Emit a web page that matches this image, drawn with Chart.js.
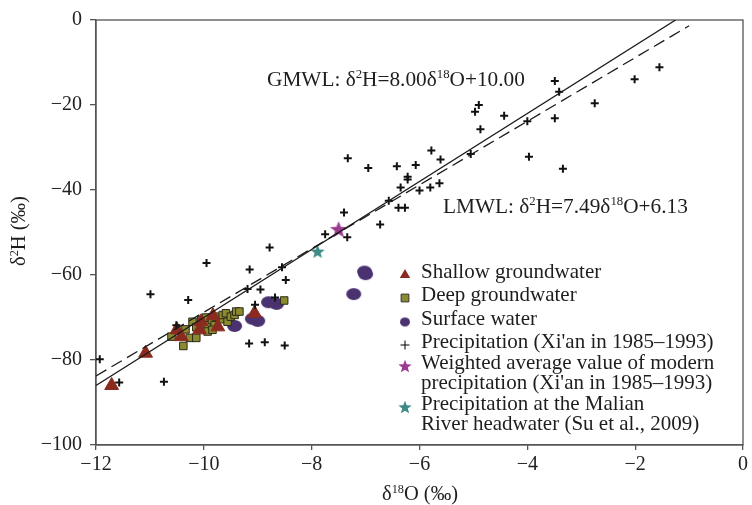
<!DOCTYPE html>
<html>
<head>
<meta charset="utf-8">
<script src="https://cdn.jsdelivr.net/npm/chart.js@4.4.0/dist/chart.umd.min.js"></script>
<style>
	body { margin: 0; background: #fff; }
	canvas { display: block; }
</style>
</head>
<body>
<canvas id="myChart" width="752" height="505"></canvas>
<script>
// values
let shallowX = [-11.71, -11.08, -10.50, -10.42, -10.05, -10.08, -9.83, -9.74, -9.06];
let shallowY = [-86.0, -78.4, -72.9, -74.5, -71.0, -72.9, -69.6, -72.2, -69.0];

let deepX = [-10.60, -10.38, -10.34, -10.26, -10.14, -10.21, -10.14, -10.05, -10.03, -9.96, -9.93, -9.93, -9.85,
	-9.80, -9.77, -9.65, -9.65, -9.59, -9.56, -9.50, -9.43, -9.40, -9.34, -9.84, -8.51];
let deepY = [-74.5, -76.7, -72.8, -74.8, -74.8, -71.0, -72.3, -70.6, -72.3, -70.0, -71.8, -73.3, -70.6,
	-71.8, -69.8, -70.4, -69.4, -69.0, -71.0, -69.8, -69.4, -68.6, -68.6, -72.9, -66.0];

let surfaceX = [-7.02, -7.00, -7.22, -8.80, -8.65, -9.10, -9.00, -9.43];
let surfaceY = [-59.2, -59.8, -64.5, -66.4, -66.8, -70.3, -70.8, -72.0];

let precipX = [-1.55, -2.01, -3.49, -3.41, -2.75, -4.90, -4.97, -4.43, -3.49, -4.00, -4.87, -5.78, -5.61,
	-5.05, -3.97, -3.34, -5.63, -5.80, -6.00, -7.33, -6.95, -6.42, -6.07, -6.22, -6.22, -6.35, -6.57,
	-6.39, -6.27, -7.40, -6.73, -7.75, -7.34, -8.78, -9.95, -9.15, -8.55, -8.48, -9.19, -8.95, -10.29,
	-8.68, -9.05, -9.16, -8.87, -8.50, -10.99, -10.51, -11.93, -11.57, -10.74];
let precipY = [-11.1, -13.95, -14.35, -16.9, -19.6, -20.0, -21.6, -22.5, -23.1, -23.8, -25.7, -30.7, -32.8,
	-31.5, -32.2, -35.0, -38.4, -39.4, -40.1, -32.5, -34.8, -34.4, -34.1, -36.9, -37.5, -39.4, -42.5,
	-44.2, -44.2, -45.3, -48.1, -50.4, -51.1, -53.5, -57.2, -58.7, -58.2, -61.2, -63.3, -63.4, -65.9,
	-65.3, -67.0, -76.1, -75.8, -76.6, -64.5, -71.8, -79.8, -85.3, -85.1];

let weightedX = [-7.50];
let weightedY = [-49.2];
let malianX = [-7.89];
let malianY = [-54.4];

// meteoric water lines, end points
let gmwlX = [-12, -1.25];
let gmwlY = [-86.0, 0];
let lmwlX = [-12, -1.0];
let lmwlY = [-83.75, -1.36];

let xTicks = [-12, -10, -8, -6, -4, -2, 0];
let yTicks = [-100, -80, -60, -40, -20, 0];

let legendLabels = [
	["Shallow groundwater"],
	["Deep groundwater"],
	["Surface water"],
	["Precipitation (Xi'an in 1985\u20131993)"],
	["Weighted average value of modern", "precipitation (Xi'an in 1985\u20131993)"],
	["Precipitation at the Malian", "River headwater (Su et al., 2009)"]
];

const FONT = "'Liberation Serif', 'Times New Roman', serif";

function pts(xs, ys) {
	let res = [];
	for(let i=0; i<xs.length; i++)
		res.push({x: xs[i], y: ys[i]});
	return res;
}

function minus(v) {
	return v < 0 ? "\u2212" + Math.abs(v) : "" + v;
}

function makeEllipse(w, h, color) {
	let c = document.createElement("canvas");
	c.width = w + 2; c.height = h + 2;
	let g = c.getContext("2d");
	g.fillStyle = color;
	g.beginPath();
	g.ellipse(c.width/2, c.height/2, w/2, h/2, 0, 0, Math.PI*2);
	g.fill();
	return c;
}

function makeStar(r, color) {
	let c = document.createElement("canvas");
	c.width = c.height = Math.ceil(r*2) + 2;
	let g = c.getContext("2d");
	let cx = c.width/2, cy = c.height/2 + r*0.1;
	g.fillStyle = color;
	g.beginPath();
	for(let i=0; i<10; i++) {
		let rr = i % 2 == 0 ? r : r*0.42;
		let a = -Math.PI/2 + i*Math.PI/5;
		g.lineTo(cx + rr*Math.cos(a), cy + rr*Math.sin(a));
	}
	g.closePath();
	g.fill();
	return c;
}

let surfaceImg = makeEllipse(15, 12, "#4a3270");
let surfaceLeg = makeEllipse(10, 9, "#4a3270");
let weightedImg = makeStar(9, "#9a3a90");
let weightedLeg = makeStar(7, "#9a3a90");
let malianImg = makeStar(7.5, "#3d8a87");
let malianLeg = makeStar(7, "#3d8a87");

// rich text: segments [text, isSuperscript]
function richWidth(ctx, segs, size) {
	let w = 0;
	segs.forEach(s => {
		ctx.font = (s[1] ? size*0.6 : size) + "px " + FONT;
		w += ctx.measureText(s[0]).width;
	});
	return w;
}

function richText(ctx, segs, x, y, size) {
	ctx.textBaseline = "alphabetic";
	ctx.textAlign = "left";
	segs.forEach(s => {
		ctx.font = (s[1] ? size*0.6 : size) + "px " + FONT;
		ctx.fillText(s[0], x, s[1] ? y - size*0.36 : y);
		x += ctx.measureText(s[0]).width;
	});
}

const framePlugin = {
	id: "frame",
	beforeDatasetsDraw(chart) {
		let a = chart.chartArea;
		let ctx = chart.ctx;
		ctx.save();
		ctx.strokeStyle = "#555";
		ctx.lineWidth = 1.3;
		ctx.strokeRect(a.left, a.top, a.right - a.left, a.bottom - a.top);
		ctx.restore();
	}
};

const textPlugin = {
	id: "texts",
	afterDraw(chart) {
		let ctx = chart.ctx;
		ctx.save();
		ctx.fillStyle = "#1e1e1e";

		richText(ctx, [["GMWL: \u03b4", 0], ["2", 1], ["H=8.00\u03b4", 0], ["18", 1], ["O+10.00", 0]], 267, 86, 21.3);
		richText(ctx, [["LMWL: \u03b4", 0], ["2", 1], ["H=7.49\u03b4", 0], ["18", 1], ["O+6.13", 0]], 443, 213, 21.3);

		// x title
		let xt = [["\u03b4", 0], ["18", 1], ["O (\u2030)", 0]];
		let w = richWidth(ctx, xt, 20.5);
		richText(ctx, xt, 420 - w/2, 500, 20.5);

		// y title
		let yt = [["\u03b4", 0], ["2", 1], ["H (\u2030)", 0]];
		w = richWidth(ctx, yt, 20.5);
		ctx.save();
		ctx.translate(25, 231);
		ctx.rotate(-Math.PI/2);
		richText(ctx, yt, -w/2, 0, 20.5);
		ctx.restore();

		// legend
		let rows = [272, 295, 319, 342, 363, 404];
		let markers = [
			{pointStyle: "triangle", radius: 6, color: "#8b2b1f"},
			{pointStyle: "rect", radius: 5.5, color: "#8c8a2e", border: "#333"},
			{pointStyle: surfaceLeg},
			{pointStyle: "cross", radius: 4.5, color: "#000", line: 2.2},
			{pointStyle: weightedLeg},
			{pointStyle: malianLeg}
		];
		for(let i=0; i<rows.length; i++) {
			let m = markers[i];
			ctx.save();
			ctx.fillStyle = m.color || "#000";
			ctx.strokeStyle = m.border || m.color || "#000";
			Chart.helpers.drawPoint(ctx, {
				pointStyle: m.pointStyle,
				radius: m.radius || 5,
				rotation: 0,
				borderWidth: m.line || (m.border ? 1 : 0)
			}, 405, rows[i] + 3);
			ctx.restore();
			ctx.fillStyle = "#1e1e1e";
			ctx.font = "21px " + FONT;
			ctx.textBaseline = "middle";
			ctx.textAlign = "left";
			for(let j=0; j<legendLabels[i].length; j++)
				ctx.fillText(legendLabels[i][j], 421, rows[i] + j*20.5);
		}
		ctx.restore();
	}
};

let axisFont = {family: FONT, size: 20};

var ctx = document.getElementById("myChart").getContext("2d");
var chart = new Chart(ctx, {
	type: "scatter",
	data: {
		datasets: [
			{
				label: "GMWL", data: pts(gmwlX, gmwlY), showLine: true,
				borderColor: "#1a1a1a", borderWidth: 1.3, pointRadius: 0, order: 1
			},
			{
				label: "LMWL", data: pts(lmwlX, lmwlY), showLine: true, borderDash: [12, 6],
				borderColor: "#1a1a1a", borderWidth: 1.3, pointRadius: 0, order: 1
			},
			{
				label: "Precipitation (Xi'an in 1985\u20131993)", data: pts(precipX, precipY),
				pointStyle: "cross", pointRadius: 4, borderColor: "#111", borderWidth: 2, order: 2
			},
			{
				label: "Surface water", data: pts(surfaceX, surfaceY),
				pointStyle: surfaceImg, order: 5
			},
			{
				label: "Deep groundwater", data: pts(deepX, deepY),
				pointStyle: "rect", pointRadius: 5.3, backgroundColor: "#8c8a2e", borderColor: "#2a2a1a", borderWidth: 1, order: 4
			},
			{
				label: "Shallow groundwater", data: pts(shallowX, shallowY),
				pointStyle: "triangle", pointRadius: 8, backgroundColor: "#8b2b1f", borderColor: "#8b2b1f", borderWidth: 1, order: 3
			},
			{
				label: "Weighted average value of modern precipitation", data: pts(weightedX, weightedY),
				pointStyle: weightedImg, order: 2
			},
			{
				label: "Precipitation at the Malian River headwater", data: pts(malianX, malianY),
				pointStyle: malianImg, order: 2
			}
		]
	},
	options: {
		responsive: false,
		animation: false,
		devicePixelRatio: 1,
		layout: { padding: {top: 20, right: 6, left: 0, bottom: 0} },
		plugins: {
			legend: { display: false },
			tooltip: { enabled: false }
		},
		scales: {
			x: {
				type: "linear", min: -12, max: 0,
				afterFit: s => { s.height = 60; },
				afterBuildTicks: s => { s.ticks = xTicks.map(v => ({value: v})); },
				ticks: { font: axisFont, color: "#222", padding: 3, maxRotation: 0, callback: v => minus(v) },
				grid: { drawOnChartArea: false, tickLength: 5, color: "#555", lineWidth: 1.3 },
				border: { color: "#555", width: 1.3 }
			},
			y: {
				type: "linear", min: -100, max: 0,
				afterFit: s => { s.width = 96; },
				afterBuildTicks: s => { s.ticks = yTicks.map(v => ({value: v})); },
				ticks: { font: axisFont, color: "#222", padding: 8, callback: v => minus(v) },
				grid: { drawOnChartArea: false, tickLength: 6, color: "#555", lineWidth: 1.3 },
				border: { color: "#555", width: 1.3 }
			}
		}
	},
	plugins: [framePlugin, textPlugin]
});
</script>
</body>
</html>
